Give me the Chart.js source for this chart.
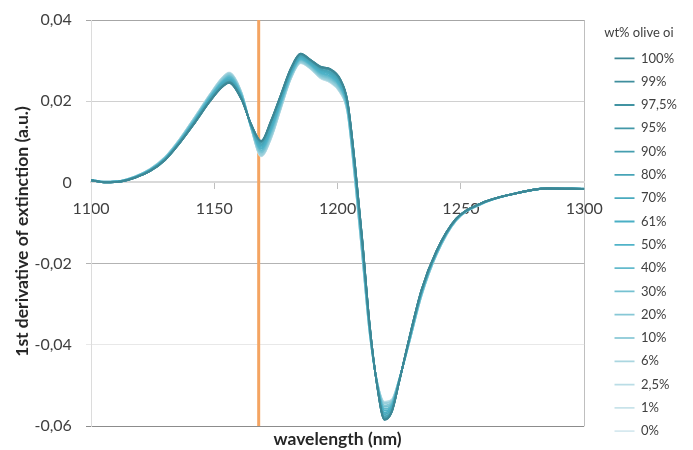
<!DOCTYPE html>
<html lang="en">
<head>
<meta charset="UTF-8">
<title>1st derivative of extinction</title>
<script src="https://cdn.jsdelivr.net/npm/chart.js"></script>
<style>
  body { margin: 0; background: #fff; }
</style>
</head>
<body>
<canvas id="chart" width="693" height="450"></canvas>
<script>
// wavelength grid (nm)
const wavelengths = [1100, 1106, 1112, 1118, 1124, 1130, 1136, 1142, 1148, 1153, 1156, 1161, 1165, 1169, 1173, 1177, 1181, 1185, 1189, 1193, 1197, 1201, 1204, 1207, 1210, 1213, 1216, 1219, 1222, 1225, 1229, 1234, 1240, 1248, 1258, 1270, 1285, 1300];

const seriesLabels = ['100%', '99%', '97,5%', '95%', '90%', '80%', '70%', '61%', '50%', '40%', '30%', '20%', '10%', '6%', '2,5%', '1%', '0%'];

// one array per olive oil content
const s100 = [0.0005, 0.0000, 0.0002, 0.0012, 0.0028, 0.0055, 0.0097, 0.0146, 0.0198, 0.0234, 0.0245, 0.0205, 0.0142, 0.0102, 0.0152, 0.0216, 0.0280, 0.0317, 0.0302, 0.0285, 0.0279, 0.0255, 0.0200, 0.0048, -0.0140, -0.0350, -0.0500, -0.0585, -0.0565, -0.0490, -0.0385, -0.0265, -0.0170, -0.0090, -0.0052, -0.0030, -0.0015, -0.0016];
const s99 = [0.0005, 0.0000, 0.0002, 0.0012, 0.0028, 0.0055, 0.0097, 0.0146, 0.0198, 0.0234, 0.0246, 0.0205, 0.0142, 0.0101, 0.0151, 0.0216, 0.0280, 0.0317, 0.0302, 0.0285, 0.0279, 0.0254, 0.0200, 0.0047, -0.0141, -0.0350, -0.0500, -0.0584, -0.0565, -0.0490, -0.0385, -0.0265, -0.0170, -0.0090, -0.0052, -0.0030, -0.0015, -0.0016];
const s975 = [0.0005, 0.0000, 0.0002, 0.0012, 0.0028, 0.0055, 0.0097, 0.0146, 0.0198, 0.0235, 0.0246, 0.0205, 0.0142, 0.0101, 0.0151, 0.0215, 0.0279, 0.0316, 0.0301, 0.0284, 0.0278, 0.0254, 0.0199, 0.0047, -0.0141, -0.0351, -0.0500, -0.0584, -0.0564, -0.0490, -0.0385, -0.0265, -0.0170, -0.0090, -0.0052, -0.0030, -0.0015, -0.0016];
const s95 = [0.0005, 0.0000, 0.0002, 0.0012, 0.0028, 0.0055, 0.0098, 0.0147, 0.0199, 0.0235, 0.0246, 0.0206, 0.0142, 0.0100, 0.0150, 0.0214, 0.0279, 0.0316, 0.0301, 0.0284, 0.0277, 0.0253, 0.0199, 0.0046, -0.0142, -0.0351, -0.0499, -0.0583, -0.0564, -0.0490, -0.0386, -0.0266, -0.0171, -0.0090, -0.0052, -0.0030, -0.0015, -0.0016];
const s90 = [0.0005, 0.0000, 0.0002, 0.0012, 0.0029, 0.0056, 0.0098, 0.0147, 0.0200, 0.0236, 0.0248, 0.0207, 0.0141, 0.0098, 0.0148, 0.0213, 0.0277, 0.0315, 0.0300, 0.0282, 0.0276, 0.0252, 0.0197, 0.0044, -0.0144, -0.0352, -0.0499, -0.0580, -0.0562, -0.0490, -0.0386, -0.0267, -0.0171, -0.0090, -0.0052, -0.0030, -0.0015, -0.0016];
const s80 = [0.0005, 0.0000, 0.0002, 0.0013, 0.0029, 0.0056, 0.0099, 0.0149, 0.0201, 0.0238, 0.0250, 0.0208, 0.0140, 0.0094, 0.0143, 0.0209, 0.0275, 0.0312, 0.0298, 0.0279, 0.0272, 0.0248, 0.0194, 0.0040, -0.0148, -0.0354, -0.0498, -0.0576, -0.0559, -0.0489, -0.0387, -0.0268, -0.0172, -0.0091, -0.0052, -0.0030, -0.0015, -0.0016];
const s70 = [0.0005, 0.0001, 0.0003, 0.0013, 0.0030, 0.0057, 0.0100, 0.0150, 0.0203, 0.0241, 0.0253, 0.0210, 0.0139, 0.0091, 0.0139, 0.0206, 0.0272, 0.0310, 0.0295, 0.0277, 0.0269, 0.0245, 0.0192, 0.0036, -0.0153, -0.0357, -0.0497, -0.0571, -0.0556, -0.0488, -0.0388, -0.0270, -0.0173, -0.0091, -0.0053, -0.0030, -0.0015, -0.0016];
const s61 = [0.0005, 0.0001, 0.0003, 0.0013, 0.0030, 0.0058, 0.0101, 0.0151, 0.0205, 0.0243, 0.0255, 0.0212, 0.0138, 0.0087, 0.0135, 0.0203, 0.0270, 0.0308, 0.0293, 0.0274, 0.0266, 0.0242, 0.0189, 0.0032, -0.0156, -0.0359, -0.0496, -0.0567, -0.0553, -0.0488, -0.0389, -0.0271, -0.0174, -0.0092, -0.0053, -0.0030, -0.0015, -0.0016];
const s50 = [0.0006, 0.0001, 0.0003, 0.0014, 0.0031, 0.0059, 0.0102, 0.0153, 0.0207, 0.0245, 0.0258, 0.0214, 0.0137, 0.0083, 0.0130, 0.0199, 0.0267, 0.0305, 0.0291, 0.0271, 0.0262, 0.0238, 0.0186, 0.0028, -0.0161, -0.0361, -0.0495, -0.0562, -0.0550, -0.0487, -0.0391, -0.0273, -0.0175, -0.0092, -0.0053, -0.0030, -0.0015, -0.0016];
const s40 = [0.0006, 0.0001, 0.0003, 0.0014, 0.0031, 0.0059, 0.0103, 0.0154, 0.0208, 0.0247, 0.0261, 0.0215, 0.0136, 0.0079, 0.0126, 0.0196, 0.0265, 0.0303, 0.0289, 0.0268, 0.0259, 0.0235, 0.0183, 0.0024, -0.0165, -0.0363, -0.0494, -0.0558, -0.0547, -0.0486, -0.0392, -0.0274, -0.0176, -0.0092, -0.0053, -0.0030, -0.0015, -0.0016];
const s30 = [0.0006, 0.0001, 0.0003, 0.0014, 0.0032, 0.0060, 0.0104, 0.0156, 0.0210, 0.0249, 0.0263, 0.0217, 0.0135, 0.0075, 0.0121, 0.0192, 0.0262, 0.0301, 0.0287, 0.0265, 0.0256, 0.0232, 0.0180, 0.0020, -0.0169, -0.0365, -0.0493, -0.0553, -0.0544, -0.0486, -0.0393, -0.0276, -0.0177, -0.0093, -0.0053, -0.0030, -0.0015, -0.0016];
const s20 = [0.0006, 0.0002, 0.0004, 0.0014, 0.0032, 0.0061, 0.0105, 0.0157, 0.0212, 0.0252, 0.0266, 0.0219, 0.0134, 0.0072, 0.0117, 0.0189, 0.0260, 0.0299, 0.0284, 0.0263, 0.0253, 0.0229, 0.0178, 0.0016, -0.0174, -0.0368, -0.0492, -0.0549, -0.0541, -0.0485, -0.0394, -0.0277, -0.0178, -0.0093, -0.0054, -0.0030, -0.0015, -0.0016];
const s10 = [0.0006, 0.0002, 0.0004, 0.0015, 0.0033, 0.0061, 0.0106, 0.0159, 0.0213, 0.0254, 0.0268, 0.0220, 0.0133, 0.0068, 0.0112, 0.0185, 0.0257, 0.0296, 0.0282, 0.0260, 0.0249, 0.0225, 0.0175, 0.0012, -0.0178, -0.0370, -0.0491, -0.0544, -0.0538, -0.0485, -0.0395, -0.0279, -0.0179, -0.0094, -0.0054, -0.0030, -0.0014, -0.0015];
const s6 = [0.0006, 0.0002, 0.0004, 0.0015, 0.0033, 0.0062, 0.0106, 0.0159, 0.0214, 0.0255, 0.0269, 0.0221, 0.0133, 0.0066, 0.0110, 0.0184, 0.0256, 0.0295, 0.0281, 0.0259, 0.0248, 0.0224, 0.0174, 0.0010, -0.0179, -0.0371, -0.0491, -0.0543, -0.0537, -0.0484, -0.0395, -0.0279, -0.0179, -0.0094, -0.0054, -0.0030, -0.0014, -0.0015];
const s25 = [0.0006, 0.0002, 0.0004, 0.0015, 0.0033, 0.0062, 0.0107, 0.0160, 0.0214, 0.0256, 0.0270, 0.0222, 0.0132, 0.0065, 0.0109, 0.0183, 0.0255, 0.0295, 0.0281, 0.0258, 0.0247, 0.0223, 0.0173, 0.0009, -0.0181, -0.0371, -0.0490, -0.0541, -0.0536, -0.0484, -0.0396, -0.0280, -0.0180, -0.0094, -0.0054, -0.0030, -0.0014, -0.0015];
const s1 = [0.0006, 0.0002, 0.0004, 0.0015, 0.0033, 0.0062, 0.0107, 0.0160, 0.0215, 0.0256, 0.0270, 0.0222, 0.0132, 0.0065, 0.0108, 0.0182, 0.0255, 0.0294, 0.0280, 0.0257, 0.0246, 0.0222, 0.0172, 0.0008, -0.0182, -0.0372, -0.0490, -0.0541, -0.0535, -0.0484, -0.0396, -0.0280, -0.0180, -0.0094, -0.0054, -0.0030, -0.0014, -0.0015];
const s0 = [0.0006, 0.0002, 0.0004, 0.0015, 0.0033, 0.0062, 0.0107, 0.0160, 0.0215, 0.0256, 0.0271, 0.0222, 0.0132, 0.0064, 0.0108, 0.0182, 0.0255, 0.0294, 0.0280, 0.0257, 0.0246, 0.0222, 0.0172, 0.0008, -0.0182, -0.0372, -0.0490, -0.0540, -0.0535, -0.0484, -0.0396, -0.0280, -0.0180, -0.0094, -0.0054, -0.0030, -0.0014, -0.0015];
const seriesValues = [s100, s99, s975, s95, s90, s80, s70, s61, s50, s40, s30, s20, s10, s6, s25, s1, s0];

// marked wavelength (orange line)
const markerWavelength = 1168;
const yTicks = [-0.06, -0.04, -0.02, 0, 0.02, 0.04];
const xTicks = [1100, 1150, 1200, 1250, 1300];

const lineColors = ['#3d8795', '#3f8e9d', '#4193a2', '#4398a8', '#459eaf', '#47a4b7', '#49aabe', '#4aafc5', '#50b3c8', '#63bacc', '#75c1d1', '#87c8d6', '#98cfdb', '#aad6e0', '#badde6', '#c8e3ea', '#d6e9ef'];
const fontFamily = 'Lato, "Noto Sans", sans-serif';

const datasets = seriesValues.map((vals, i) => ({
    label: seriesLabels[i],
    data: vals.map((v, j) => ({ x: wavelengths[j], y: v })),
    borderColor: lineColors[i],
    backgroundColor: lineColors[i],
    borderWidth: 1.8,
    pointRadius: 0,
    cubicInterpolationMode: 'monotone',
    order: 0
}));

datasets.push({
    label: '',
    data: [{ x: markerWavelength, y: yTicks[0] }, { x: markerWavelength, y: yTicks[yTicks.length - 1] }],
    borderColor: '#f4a462',
    borderWidth: 3,
    pointRadius: 0,
    order: 1
});

function yGridColor(ctx) {
    if (!ctx.tick) return 'rgba(0,0,0,0)';
    const v = Math.round(ctx.tick.value * 100);
    if (v === 4) return '#a6a6a6';
    if (v === 2) return '#d0d0d0';
    if (v === 0) return 'rgba(0,0,0,0)';
    if (v === -2) return '#b3b3b3';
    if (v === -4) return '#e8e8e8';
    return '#8c8c8c';
}

new Chart(document.getElementById('chart'), {
    type: 'line',
    data: { datasets: datasets },
    options: {
        responsive: false,
        animation: false,
        layout: { padding: { top: 20, right: 6, bottom: 0, left: 0 } },
        plugins: {
            tooltip: { enabled: false },
            legend: {
                position: 'right',
                align: 'start',
                title: {
                    display: true,
                    text: 'wt% olive oi',
                    position: 'start',
                    color: '#404040',
                    font: { family: fontFamily, size: 13 },
                    padding: { top: 6, bottom: 0 }
                },
                labels: {
                    usePointStyle: true,
                    pointStyle: 'line',
                    pointStyleWidth: 20,
                    boxHeight: 13,
                    padding: 10.3,
                    color: '#404040',
                    font: { family: fontFamily, size: 13 },
                    filter: item => item.text !== ''
                }
            }
        },
        scales: {
            x: {
                type: 'linear',
                min: xTicks[0],
                max: xTicks[xTicks.length - 1],
                position: { y: 0 },
                afterBuildTicks: s => { s.ticks = xTicks.map(v => ({ value: v })); },
                ticks: {
                    color: '#404040',
                    font: { family: fontFamily, size: 16 },
                    padding: 11,
                    maxRotation: 0,
                    autoSkip: false,
                    callback: v => String(v)
                },
                grid: {
                    drawOnChartArea: true,
                    color: ctx => (ctx.tick && ctx.tick.value === 1300) ? '#bfbfbf' : 'rgba(0,0,0,0)',
                    tickColor: ctx => (ctx.tick && ctx.tick.value > 1100 && ctx.tick.value < 1300) ? '#bfbfbf' : 'rgba(0,0,0,0)',
                    tickLength: 6
                },
                border: { display: true, color: '#d9d9d9', width: 2 }
            },
            xTitle: {
                type: 'linear',
                position: 'bottom',
                ticks: { display: false },
                grid: { display: false },
                border: { display: false },
                title: {
                    display: true,
                    text: 'wavelength (nm)',
                    color: '#262626',
                    font: { family: fontFamily, size: 17.5, weight: 'bold' },
                    padding: { top: 0, bottom: 0 }
                },
                afterFit: s => { s.height = 24; }
            },
            y: {
                min: yTicks[0],
                max: yTicks[yTicks.length - 1],
                afterBuildTicks: s => { s.ticks = yTicks.map(v => ({ value: v })); },
                ticks: {
                    color: '#404040',
                    font: { family: fontFamily, size: 16 },
                    padding: 10,
                    // trailing space keeps the labels clear of the tick marks
                    callback: v => (Math.round(v * 100) === 0 ? '0' : (Math.round(v * 100) / 100).toFixed(2).replace('.', ',')) + ' '
                },
                grid: { color: yGridColor, tickColor: yGridColor, tickLength: 5 },
                border: { display: true, color: '#dcdcdc' },
                title: {
                    display: true,
                    text: '1st derivative of extinction (a.u.)    ',
                    color: '#262626',
                    font: { family: fontFamily, size: 17.5, weight: 'bold' },
                    padding: { top: 12, bottom: 0 }
                },
                afterFit: s => { s.width = 91; }
            },
            ySpace: {
                type: 'linear',
                position: 'right',
                ticks: { display: false },
                grid: { display: false },
                border: { display: false },
                afterFit: s => { s.width = 20; }
            }
        }
    }
});
</script>
</body>
</html>
